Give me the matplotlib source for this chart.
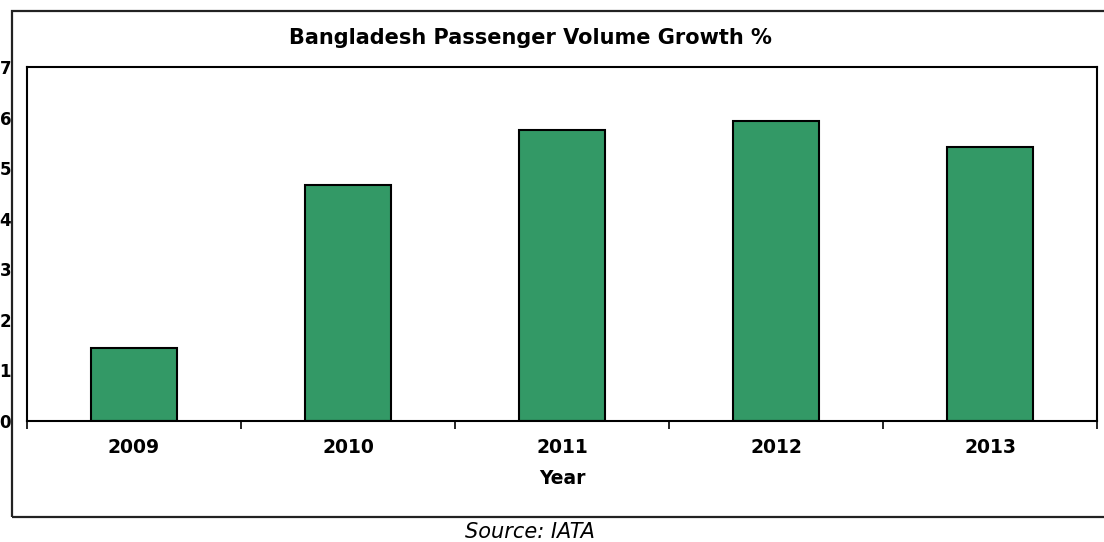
import matplotlib.pyplot as plt
from matplotlib.patches import Rectangle
import numpy as np

plt.rcParams['font.family'] = ['DejaVu Sans']

years = ['2009', '2010', '2011', '2012', '2013']
growth = [1.45, 4.67, 5.75, 5.93, 5.42]

W, H = 1104, 542
fig = plt.figure(figsize=(W / 100, H / 100), dpi=100)

# outer frame (right edge runs off the picture)
fig.patches.append(Rectangle((12 / W, 1 - 517 / H), 1.2, (517 - 11) / H,
                             transform=fig.transFigure, fill=False,
                             edgecolor='#222222', linewidth=1.6))

ax = fig.add_axes([27 / W, 1 - 421 / H, (1097 - 27) / W, (421 - 67) / H])
x = np.arange(len(years))
ax.bar(x, growth, width=0.4, color='#339966', edgecolor='black', linewidth=1.5)

ax.set_xlim(-0.5, len(years) - 0.5)
ax.set_ylim(0, 7)
ax.set_xticks(x)
ax.set_xticklabels(years, fontsize=13.5, fontweight='bold')
ax.set_xticks(np.arange(-0.5, len(years), 1), minor=True)
ax.tick_params(axis='x', which='major', length=0, pad=12)
ax.tick_params(axis='x', which='minor', length=6, width=1.2, direction='out')
ax.set_yticks(range(8))
ax.tick_params(axis='y', length=0, pad=11.5, labelsize=12)
for lab in ax.get_yticklabels():
    lab.set_fontweight('bold')
for s in ax.spines.values():
    s.set_linewidth(1.5)

ax.set_xlabel('Year', fontsize=13.5, fontweight='bold', labelpad=9)
fig.text(530 / W, 1 - 38 / H, 'Bangladesh Passenger Volume Growth %',
         ha='center', va='center', fontsize=15, fontweight='bold')
fig.text(530 / W, 1 - 532 / H, 'Source: IATA', ha='center', va='center',
         fontsize=15, style='italic')

fig.savefig('out.png', dpi=100)
